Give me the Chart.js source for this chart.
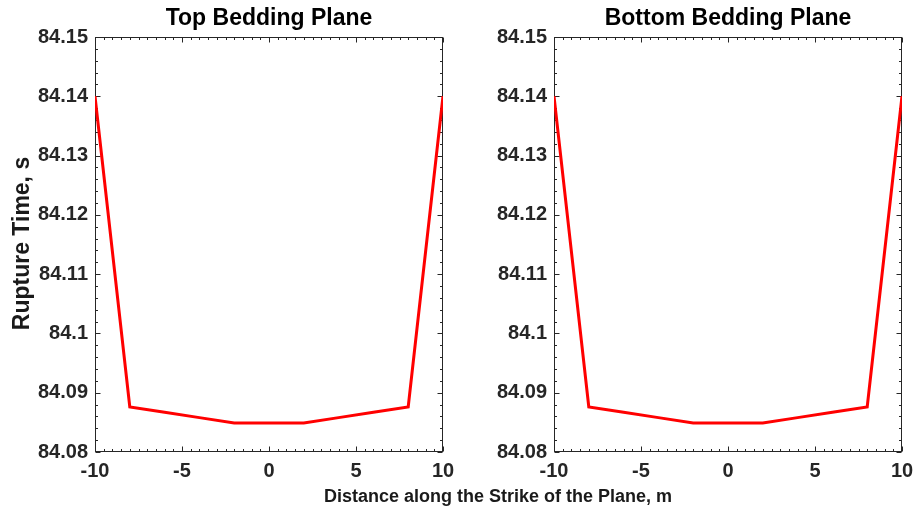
<!DOCTYPE html>
<html>
<head>
<meta charset="utf-8">
<script src="https://cdn.jsdelivr.net/npm/chart.js@4.4.1/dist/chart.umd.min.js"></script>
<style>
  body { margin: 0; background: #fff; }
  #wrap { position: relative; width: 917px; height: 510px; font-family: "Liberation Sans", Arial, sans-serif; }
  .pane { position: absolute; top: 0; height: 510px; }
  #leftPane { left: 0; width: 458px; }
  #rightPane { left: 458px; width: 459px; }
  #xlabel {
    position: absolute; left: 0; width: 996px; top: 485px;
    text-align: center; font-weight: bold; font-size: 18px; color: #1a1a1a;
    line-height: 22px;
  }
</style>
</head>
<body>
<div id="wrap">
  <div class="pane" id="leftPane"><canvas id="topChart"></canvas></div>
  <div class="pane" id="rightPane"><canvas id="bottomChart"></canvas></div>
  <div id="xlabel">Distance along the Strike of the Plane, m</div>
</div>
<script>
// rupture time along strike, both bedding planes
const distance = [-10, -8, -6, -4, -2, 0, 2, 4, 6, 8, 10];
const topRupture = [84.14, 84.0876, 84.0867, 84.0858, 84.0849, 84.0849, 84.0849, 84.0858, 84.0867, 84.0876, 84.14];
const bottomRupture = [84.14, 84.0876, 84.0867, 84.0858, 84.0849, 84.0849, 84.0849, 84.0858, 84.0867, 84.0876, 84.14];
const xTicks = [-10, -5, 0, 5, 10];
const yTicks = [84.08, 84.09, 84.1, 84.11, 84.12, 84.13, 84.14, 84.15];

const AXIS = '#262626';
const FONT = '"Liberation Sans", Arial, sans-serif';

// box around the plot with inward major + minor ticks on all four sides
const boxTicks = {
  id: 'boxTicks',
  beforeDatasetsDraw(chart) {
    const { ctx, chartArea: a, scales: { x, y } } = chart;
    ctx.save();
    ctx.strokeStyle = AXIS;
    ctx.lineWidth = 1;
    const L = Math.round(a.left) + 0.5, R = Math.round(a.right) - 0.5;
    const T = Math.round(a.top) + 0.5, B = Math.round(a.bottom) - 0.5;
    ctx.strokeRect(L, T, R - L, B - T);
    ctx.beginPath();
    for (let i = 0; i <= 40; i++) {
      const v = -10 + i * 0.5;
      const px = Math.round(x.getPixelForValue(v)) + 0.5;
      const len = (i % 10 === 0) ? 5 : 2.5;
      ctx.moveTo(px, B); ctx.lineTo(px, B - len);
      ctx.moveTo(px, T); ctx.lineTo(px, T + len);
    }
    for (let i = 0; i <= 35; i++) {
      const v = 84.08 + i * 0.002;
      const py = Math.round(y.getPixelForValue(v)) + 0.5;
      const len = (i % 5 === 0) ? 5 : 2.5;
      ctx.moveTo(L, py); ctx.lineTo(L + len, py);
      ctx.moveTo(R, py); ctx.lineTo(R - len, py);
    }
    ctx.stroke();
    ctx.restore();
  },
  // panel title centred over the plot area, optional y label on the left
  afterDraw(chart, args, opts) {
    const { ctx, chartArea: a } = chart;
    ctx.save();
    ctx.font = 'bold 23px ' + FONT;
    ctx.fillStyle = '#000';
    ctx.textAlign = 'center';
    ctx.textBaseline = 'middle';
    ctx.fillText(opts.title, (a.left + a.right) / 2, 19);
    if (opts.yTitle) {
      ctx.translate(23, (a.top + a.bottom) / 2 - 1);
      ctx.rotate(-Math.PI / 2);
      ctx.fillStyle = '#1a1a1a';
      ctx.fillText(opts.yTitle, 0, 0);
    }
    ctx.restore();
  }
};

function makeChart(id, title, values, yWidth, yTitle) {
  return new Chart(document.getElementById(id), {
    type: 'line',
    data: {
      datasets: [{
        data: distance.map((d, i) => ({ x: d, y: values[i] })),
        borderColor: '#ff0000',
        borderWidth: 3,
        pointRadius: 0,
        tension: 0,
        fill: false
      }]
    },
    options: {
      responsive: true,
      maintainAspectRatio: false,
      animation: false,
      layout: { padding: { left: 0, right: 15, top: 37, bottom: 0 } },
      plugins: {
        legend: { display: false },
        tooltip: { enabled: false },
        title: { display: false },
        boxTicks: { title: title, yTitle: yTitle }
      },
      scales: {
        x: {
          type: 'linear',
          min: -10, max: 10,
          afterBuildTicks: s => { s.ticks = xTicks.map(v => ({ value: v })); },
          afterFit: s => { s.height = 58; s.paddingLeft = 0; s.paddingRight = 0; },
          grid: { display: false, drawTicks: false },
          border: { display: false },
          ticks: {
            color: AXIS, padding: 7,
            font: { family: FONT, size: 20, weight: 'bold' },
            maxRotation: 0
          }
        },
        y: {
          min: 84.08, max: 84.15,
          afterBuildTicks: s => { s.ticks = yTicks.map(v => ({ value: v })); },
          afterFit: s => { s.width = yWidth; s.paddingTop = 0; s.paddingBottom = 0; },
          grid: { display: false, drawTicks: false },
          border: { display: false },
          ticks: {
            color: AXIS, padding: 7,
            font: { family: FONT, size: 20, weight: 'bold' },
            callback: v => String(parseFloat(v.toFixed(2)))
          }
        }
      }
    },
    plugins: [boxTicks]
  });
}

makeChart('topChart', 'Top Bedding Plane', topRupture, 95, 'Rupture Time, s');
makeChart('bottomChart', 'Bottom Bedding Plane', bottomRupture, 96, null);
</script>
</body>
</html>
